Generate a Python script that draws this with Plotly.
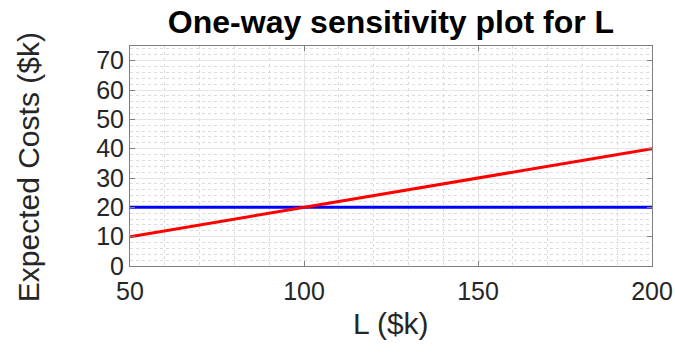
import plotly.graph_objects as go

L_values = [50, 200]
option_a_costs = [20, 20]
option_b_costs = [10, 40]
x_ticks = [50, 100, 150, 200]
y_ticks = [0, 10, 20, 30, 40, 50, 60, 70]

FONT = "Liberation Sans, Arial, Helvetica, sans-serif"

fig = go.Figure()
fig.add_trace(go.Scatter(x=L_values, y=option_a_costs, mode="lines",
                         line=dict(color="#0000ff", width=3), showlegend=False))
fig.add_trace(go.Scatter(x=L_values, y=option_b_costs, mode="lines",
                         line=dict(color="#ff0000", width=3), showlegend=False))

axis_common = dict(
    showline=True, linecolor="#7f7f7f", linewidth=1, mirror="ticks",
    ticks="inside", ticklen=5, tickcolor="#7f7f7f",
    showgrid=True, gridcolor="#e6e6e6", gridwidth=1,
    zeroline=False, automargin=False,
    tickfont=dict(family=FONT, size=25, color="#262626"),
)

fig.update_xaxes(
    range=[50, 200], tickvals=x_ticks, ticktext=[str(v) for v in x_ticks],
    ticklabelstandoff=3,
    minor=dict(dtick=10, showgrid=True, gridcolor="#dcdcdc", griddash="dot", ticks=""),
    **axis_common,
)
fig.update_yaxes(
    range=[0, 75], tickvals=y_ticks, ticktext=[str(v) for v in y_ticks],
    minor=dict(dtick=2, showgrid=True, gridcolor="#dcdcdc", griddash="dot", ticks=""),
    **axis_common,
)

fig.add_annotation(text="L ($k)", xref="paper", yref="paper", x=0.5, y=-0.26,
                   xanchor="center", yanchor="middle", showarrow=False,
                   font=dict(family=FONT, size=30, color="#262626"))
fig.add_annotation(text="Expected Costs ($k)", xref="paper", yref="paper",
                   x=-0.195, y=0.45, xanchor="center", yanchor="middle",
                   textangle=-90, showarrow=False,
                   font=dict(family=FONT, size=30, color="#262626"))

fig.update_layout(
    width=675, height=356,
    margin=dict(l=130, r=23, t=46, b=90),
    paper_bgcolor="white", plot_bgcolor="white",
    title=dict(text="<b>One-way sensitivity plot for L</b>", x=391/675, xanchor="center",
               y=1 - 22/356, yanchor="middle",
               font=dict(family=FONT, size=32, color="black")),
)

fig.write_html("out.html")
